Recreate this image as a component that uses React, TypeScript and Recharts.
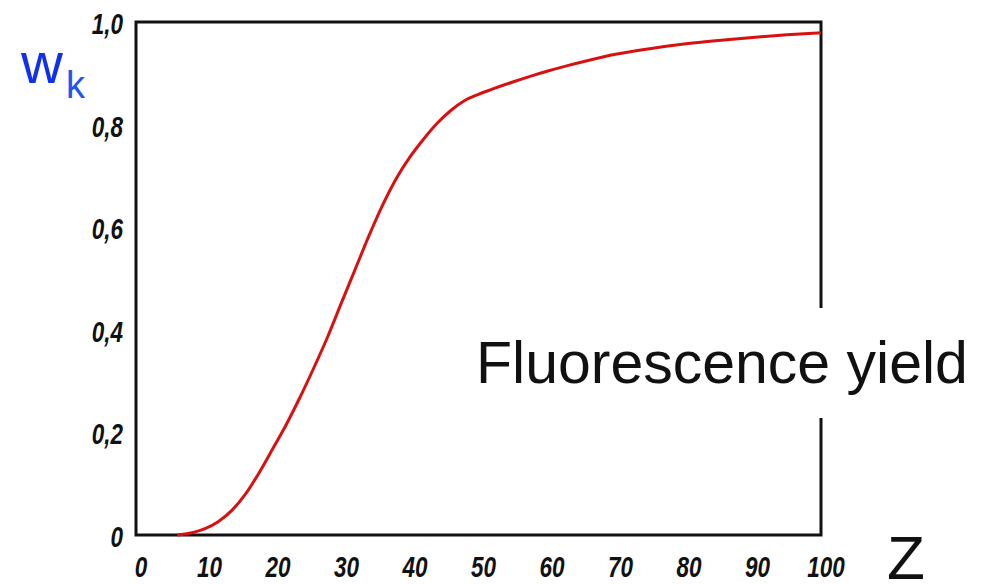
import React from "react";
import { LineChart, Line, XAxis, YAxis, ReferenceArea } from "recharts";

const zValues = [6, 8, 10, 12, 14, 16, 18, 20, 22, 24, 26, 28, 30, 32, 34, 36, 38, 40, 42, 44, 46, 48, 50, 52, 55, 58, 60, 63, 66, 70, 75, 80, 85, 90, 95, 100];
const yieldValues = [0, 0.004, 0.012, 0.026, 0.048, 0.08, 0.122, 0.169, 0.217, 0.27, 0.327, 0.387, 0.453, 0.518, 0.583, 0.643, 0.695, 0.737, 0.772, 0.803, 0.828, 0.847, 0.859, 0.869, 0.883, 0.896, 0.904, 0.915, 0.925, 0.937, 0.948, 0.957, 0.964, 0.97, 0.975, 0.979];
const xTicks = [0, 10, 20, 30, 40, 50, 60, 70, 80, 90, 100];
const yTicks = [0, 0.2, 0.4, 0.6, 0.8, 1.0];
const yTickLabels = ["0", "0,2", "0,4", "0,6", "0,8", "1,0"];

const data = zValues.map((z, i) => ({ z, w: yieldValues[i] }));

const tickFont = {
  fontFamily: "'Liberation Sans', Arial, sans-serif",
  fontStyle: "italic" as const,
  fontWeight: 700,
  fontSize: 30,
  fill: "#111",
};

const XTick = (props: any) => {
  const { x, y, payload } = props;
  return (
    <text transform={`translate(${x + 5},${y + 34}) scale(0.75,1)`} x={0} y={0} textAnchor="middle" {...tickFont}>
      {String(payload.value)}
    </text>
  );
};

const YTick = (props: any) => {
  const { x, y, payload } = props;
  const idx = yTicks.findIndex((t) => Math.abs(t - payload.value) < 1e-6);
  return (
    <text transform={`translate(${x - 5},${y + 12}) scale(0.75,1)`} x={0} y={0} textAnchor="end" {...tickFont}>
      {idx >= 0 ? yTickLabels[idx] : ""}
    </text>
  );
};

export default function App() {
  return (
    <div style={{ position: "absolute", left: 0, top: 0, width: 995, height: 584, background: "#fff", overflow: "hidden" }}>
      <LineChart
        width={995}
        height={584}
        data={data}
        margin={{ top: 22, right: 174, bottom: 19, left: 76 }}
      >
        <XAxis
          dataKey="z"
          type="number"
          domain={[0, 100]}
          ticks={xTicks}
          axisLine={false}
          tickLine={false}
          tick={<XTick />}
          height={30}
          interval={0}
        />
        <YAxis
          type="number"
          domain={[0, 1]}
          ticks={yTicks}
          axisLine={false}
          tickLine={false}
          tick={<YTick />}
          width={60}
          interval={0}
        />
        <ReferenceArea x1={0} x2={100} y1={0} y2={1} fill="none" fillOpacity={0} stroke="#111" strokeWidth={3} ifOverflow="visible" />
        <Line
          type="monotone"
          dataKey="w"
          stroke="#d81010"
          strokeWidth={3}
          dot={false}
          isAnimationActive={false}
        />
      </LineChart>
      <div
        style={{
          position: "absolute",
          left: 476,
          top: 308,
          height: 110,
          lineHeight: "110px",
          background: "#fff",
          fontFamily: "'Liberation Sans', Arial, sans-serif",
          fontSize: 59,
          color: "#111",
          paddingRight: 10,
          whiteSpace: "nowrap",
        }}
      >
        Fluorescence yield
      </div>
      <div
        style={{
          position: "absolute",
          left: 21,
          top: 34,
          fontFamily: "'Liberation Sans', Arial, sans-serif",
          color: "#1030f0",
          whiteSpace: "nowrap",
          lineHeight: 1,
        }}
      >
        <span style={{ fontSize: 58 }}>w</span>
        <span style={{ fontSize: 38, position: "relative", top: 15, left: 3, color: "#2255ee" }}>k</span>
      </div>
      <div
        style={{
          position: "absolute",
          left: 887,
          top: 527,
          fontFamily: "'Liberation Sans', Arial, sans-serif",
          fontSize: 62,
          color: "#111",
          lineHeight: 1,
        }}
      >
        Z
      </div>
    </div>
  );
}
